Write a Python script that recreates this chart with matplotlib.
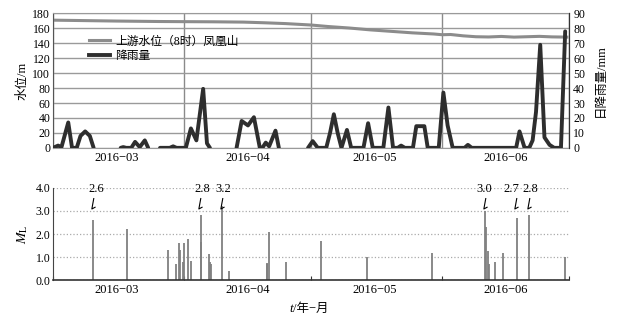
import numpy as np
import matplotlib
matplotlib.use('Agg')
from matplotlib import pyplot as plt, dates as mdates, ticker, transforms
from matplotlib.path import Path
from matplotlib.lines import Line2D
from datetime import datetime

plt.rcParams['font.family'] = ['Liberation Serif', 'Noto Sans CJK SC']
plt.rcParams['mathtext.fontset'] = 'stix'

# day offsets are counted from 2016-03-01
# upstream water level (m), read every few days
level_day = [0, 5, 10, 15, 20, 25, 31, 38, 45, 50, 55, 61, 65, 70, 75, 80, 85, 90,
             92, 94, 97, 100, 103, 106, 109, 112, 115, 118, 121.5]
level_m = [171, 170.6, 170.2, 169.8, 169.5, 169.2, 169, 168.8, 168.4, 167.5, 166.4, 164.5,
           162.5, 160.5, 158, 156, 154, 152.5, 151.5, 151.8, 150, 148.8, 148.5, 149.2,
           148.3, 148.8, 149.3, 148.6, 148.3]

# daily rainfall (mm), nan where the curve is not drawn
rain_day = [0, 1.2, 2.0, 3.6, 4.5, 5.6, 6.5, 7.6, 8.7, 9.6, 10, 15.5, 16.0, 16.6, 17.3, 18.5,
            19.4, 20.5, 21.7, 22.5, 23, 25, 25.3, 27.6, 28.4, 29.2, 31.4, 32.6, 33.9, 35.5,
            36.4, 37.1, 37.5, 43, 43.4, 44.6, 46.1, 47.5, 48.9, 49.5, 50.3, 51.1, 52.6, 53.4,
            54, 60, 60.3, 61.4, 62.6, 64.6, 65.5, 66.4, 67.3, 68.2, 69.5, 70.5, 73.4, 74.5,
            75.6, 78.1, 79.3, 80.4, 81.5, 82.3, 83.2, 85.1, 85.9, 87.8, 88.6, 91.2, 92.3,
            93.3, 94.5, 97.3, 98.1, 99, 109.5, 110.3, 111.5, 112.6, 113.4, 114.2, 115.2,
            116.2, 117.4, 118.5, 120.1, 121.1]
rain_mm = [0, 1.5, 0.5, 17, 0, 0, 8, 11, 8, 0, np.nan, np.nan, 0, 0.5, 0, 0,
           4, 0.5, 5, 0, np.nan, np.nan, 0, 0, 1, 0, 0, 13, 5, 39.5,
           3, 0, np.nan, np.nan, 0, 18, 15, 20.5, 0, 0, 3.5, 1, 11.5, 0,
           np.nan, np.nan, 0, 4.5, 0, 0, 10, 22.5, 10, 0, 12, 0, 0, 16.5,
           0, 0, 27, 0, 0, 1.5, 0, 0, 14.5, 14.5, 0, 0, 37,
           15, 0, 0, 2, 0, 0, 11, 0, 0, 5, 24, 69,
           7, 2, 0, 0, 78]

# earthquakes: day and local magnitude ML
quake_day = [9.4, 17.6, 27.3, 29.1, 29.8, 29.95, 30.7, 30.9, 31.8, 32.7, 34.9, 35.0, 36.8,
             37.0, 37.4, 39.9, 41.6, 50.5, 50.7, 51.0, 55.0, 63.3, 74.3, 89.6, 102.2, 102.3,
             102.9, 103.0, 104.4, 106.3, 109.6, 112.6, 121.1]
quake_ml = [2.6, 2.2, 1.3, 0.7, 1.6, 1.3, 0.8, 1.6, 1.8, 0.85, 2.8, 1.65, 1.15,
            0.8, 0.7, 3.2, 0.4, 0.75, 0.7, 2.1, 0.8, 1.7, 1.0, 1.2, 3.0, 2.3,
            1.25, 0.7, 0.8, 1.2, 2.7, 2.8, 1.0]

base = mdates.date2num(datetime(2016, 3, 1))
x_level = base + np.array(level_day)
x_rain = base + np.array(rain_day)
x_quake = base + np.array(quake_day)

fig = plt.figure(figsize=(6.18, 3.2), dpi=100)
ax1 = fig.add_axes([0.0858, 0.538, 0.8349, 0.420])
ax2 = ax1.twinx()
ax3 = fig.add_axes([0.0858, 0.124, 0.8349, 0.2894])

def month_label(v, pos):
    d = mdates.num2date(v)
    return d.strftime('%Y') + '\u2212' + d.strftime('%m')

for ax in (ax1, ax3):
    ax.set_xlim(base, base + 122)
    ax.xaxis.set_major_locator(mdates.MonthLocator())
    ax.xaxis.set_major_formatter(ticker.NullFormatter())
    ax.xaxis.set_minor_locator(mdates.MonthLocator(bymonthday=16))
    ax.xaxis.set_minor_formatter(ticker.FuncFormatter(month_label))
    ax.tick_params(axis='x', which='minor', length=0, labelsize=9, pad=3)

# ---- top panel ----
grey = '#9a9a9a'
ax1.set_ylim(0, 180)
ax1.set_yticks(range(0, 181, 20))
ax1.grid(axis='y', color=grey, lw=1)
ax1.grid(axis='x', which='major', color='#8a8a8a', lw=1)
ax1.set_axisbelow(True)
ax1.tick_params(axis='y', length=0, labelsize=8.5, pad=2)
ax1.tick_params(axis='x', which='major', length=0)
for s in ['top', 'bottom']:
    ax1.spines[s].set_color(grey)
ax1.spines['left'].set_color('#555555')
ax1.plot(x_level, level_m, color='#8c8c8c', lw=2.2)
ax1.set_ylabel('水位/m', fontsize=9, labelpad=3)

ax2.set_ylim(0, 90)
ax2.set_yticks(range(0, 91, 10))
ax2.tick_params(axis='y', length=0, labelsize=8.5, pad=3)
ax2.spines['right'].set_color('#333333')
ax2.spines['top'].set_visible(False)
ax2.spines['bottom'].set_visible(False)
ax2.spines['left'].set_visible(False)
ax2.plot(x_rain, rain_mm, color='#2e2e2e', lw=2.8, solid_joinstyle='round', solid_capstyle='round')
ax2.set_ylabel('日降雨量/mm', fontsize=9, labelpad=7)

handles = [Line2D([], [], color='#8c8c8c', lw=2.2), Line2D([], [], color='#2e2e2e', lw=2.8)]
ax2.legend(handles, ['上游水位（8时）凤凰山', '降雨量'], loc='upper left',
           bbox_to_anchor=(0.058, 0.88), frameon=False, fontsize=8.5, borderpad=0,
           handlelength=1.8, handletextpad=0.45, labelspacing=0.25)

# ---- bottom panel ----
ax3.set_ylim(0, 4)
ax3.set_yticks(range(0, 5))
ax3.yaxis.set_major_formatter(ticker.FormatStrFormatter('%.1f'))
ax3.grid(axis='y', color='#aaaaaa', lw=0.9, ls=':')
ax3.set_axisbelow(True)
ax3.tick_params(axis='y', length=0, labelsize=8.5, pad=2)
ax3.tick_params(axis='x', which='major', direction='in', length=3, color='#333333')
ax3.spines['top'].set_visible(False)
ax3.spines['right'].set_visible(False)
ax3.spines['left'].set_color('#444444')
ax3.spines['bottom'].set_color('#333333')
ax3.spines['bottom'].set_linewidth(1.2)
ax3.vlines(x_quake, 0, quake_ml, colors='#808080', lw=1.3)
ax3.set_ylabel('$M_\\mathrm{L}$', fontsize=10, labelpad=4)

# labels for the larger events
mark = Path([(2.0 - 2.65, 5.5), (0.0 - 2.65, -5.5), (3.7 - 2.65, -3.5)],
            [Path.MOVETO, Path.LINETO, Path.LINETO])
label_dx = [2.4, 1.4, 1.4, -1.0, -3.8, 0.5]
big = [i for i, m in enumerate(quake_ml) if m >= 2.6]
mark_tr = transforms.offset_copy(ax3.transData, fig, x=0.6, y=0, units='points')
for j, i in enumerate(big):
    ax3.plot([x_quake[i]], [3.36], marker=mark, ms=7.9, mfc='none', mec='black',
             mew=0.8, transform=mark_tr, clip_on=False)
    tr = transforms.offset_copy(ax3.transData, fig, x=label_dx[j], y=0, units='points')
    ax3.text(x_quake[i], 3.93, '%.1f' % quake_ml[i], transform=tr, ha='center', va='center',
             fontsize=9, clip_on=False)

fig.text(0.4745, 0.025, 't', ha='right', va='baseline', fontsize=9.5, style='italic',
         family='Liberation Serif')
fig.text(0.4745, 0.025, '/年\u2212月', ha='left', va='baseline', fontsize=9)

fig.savefig('out.png', dpi=100)
